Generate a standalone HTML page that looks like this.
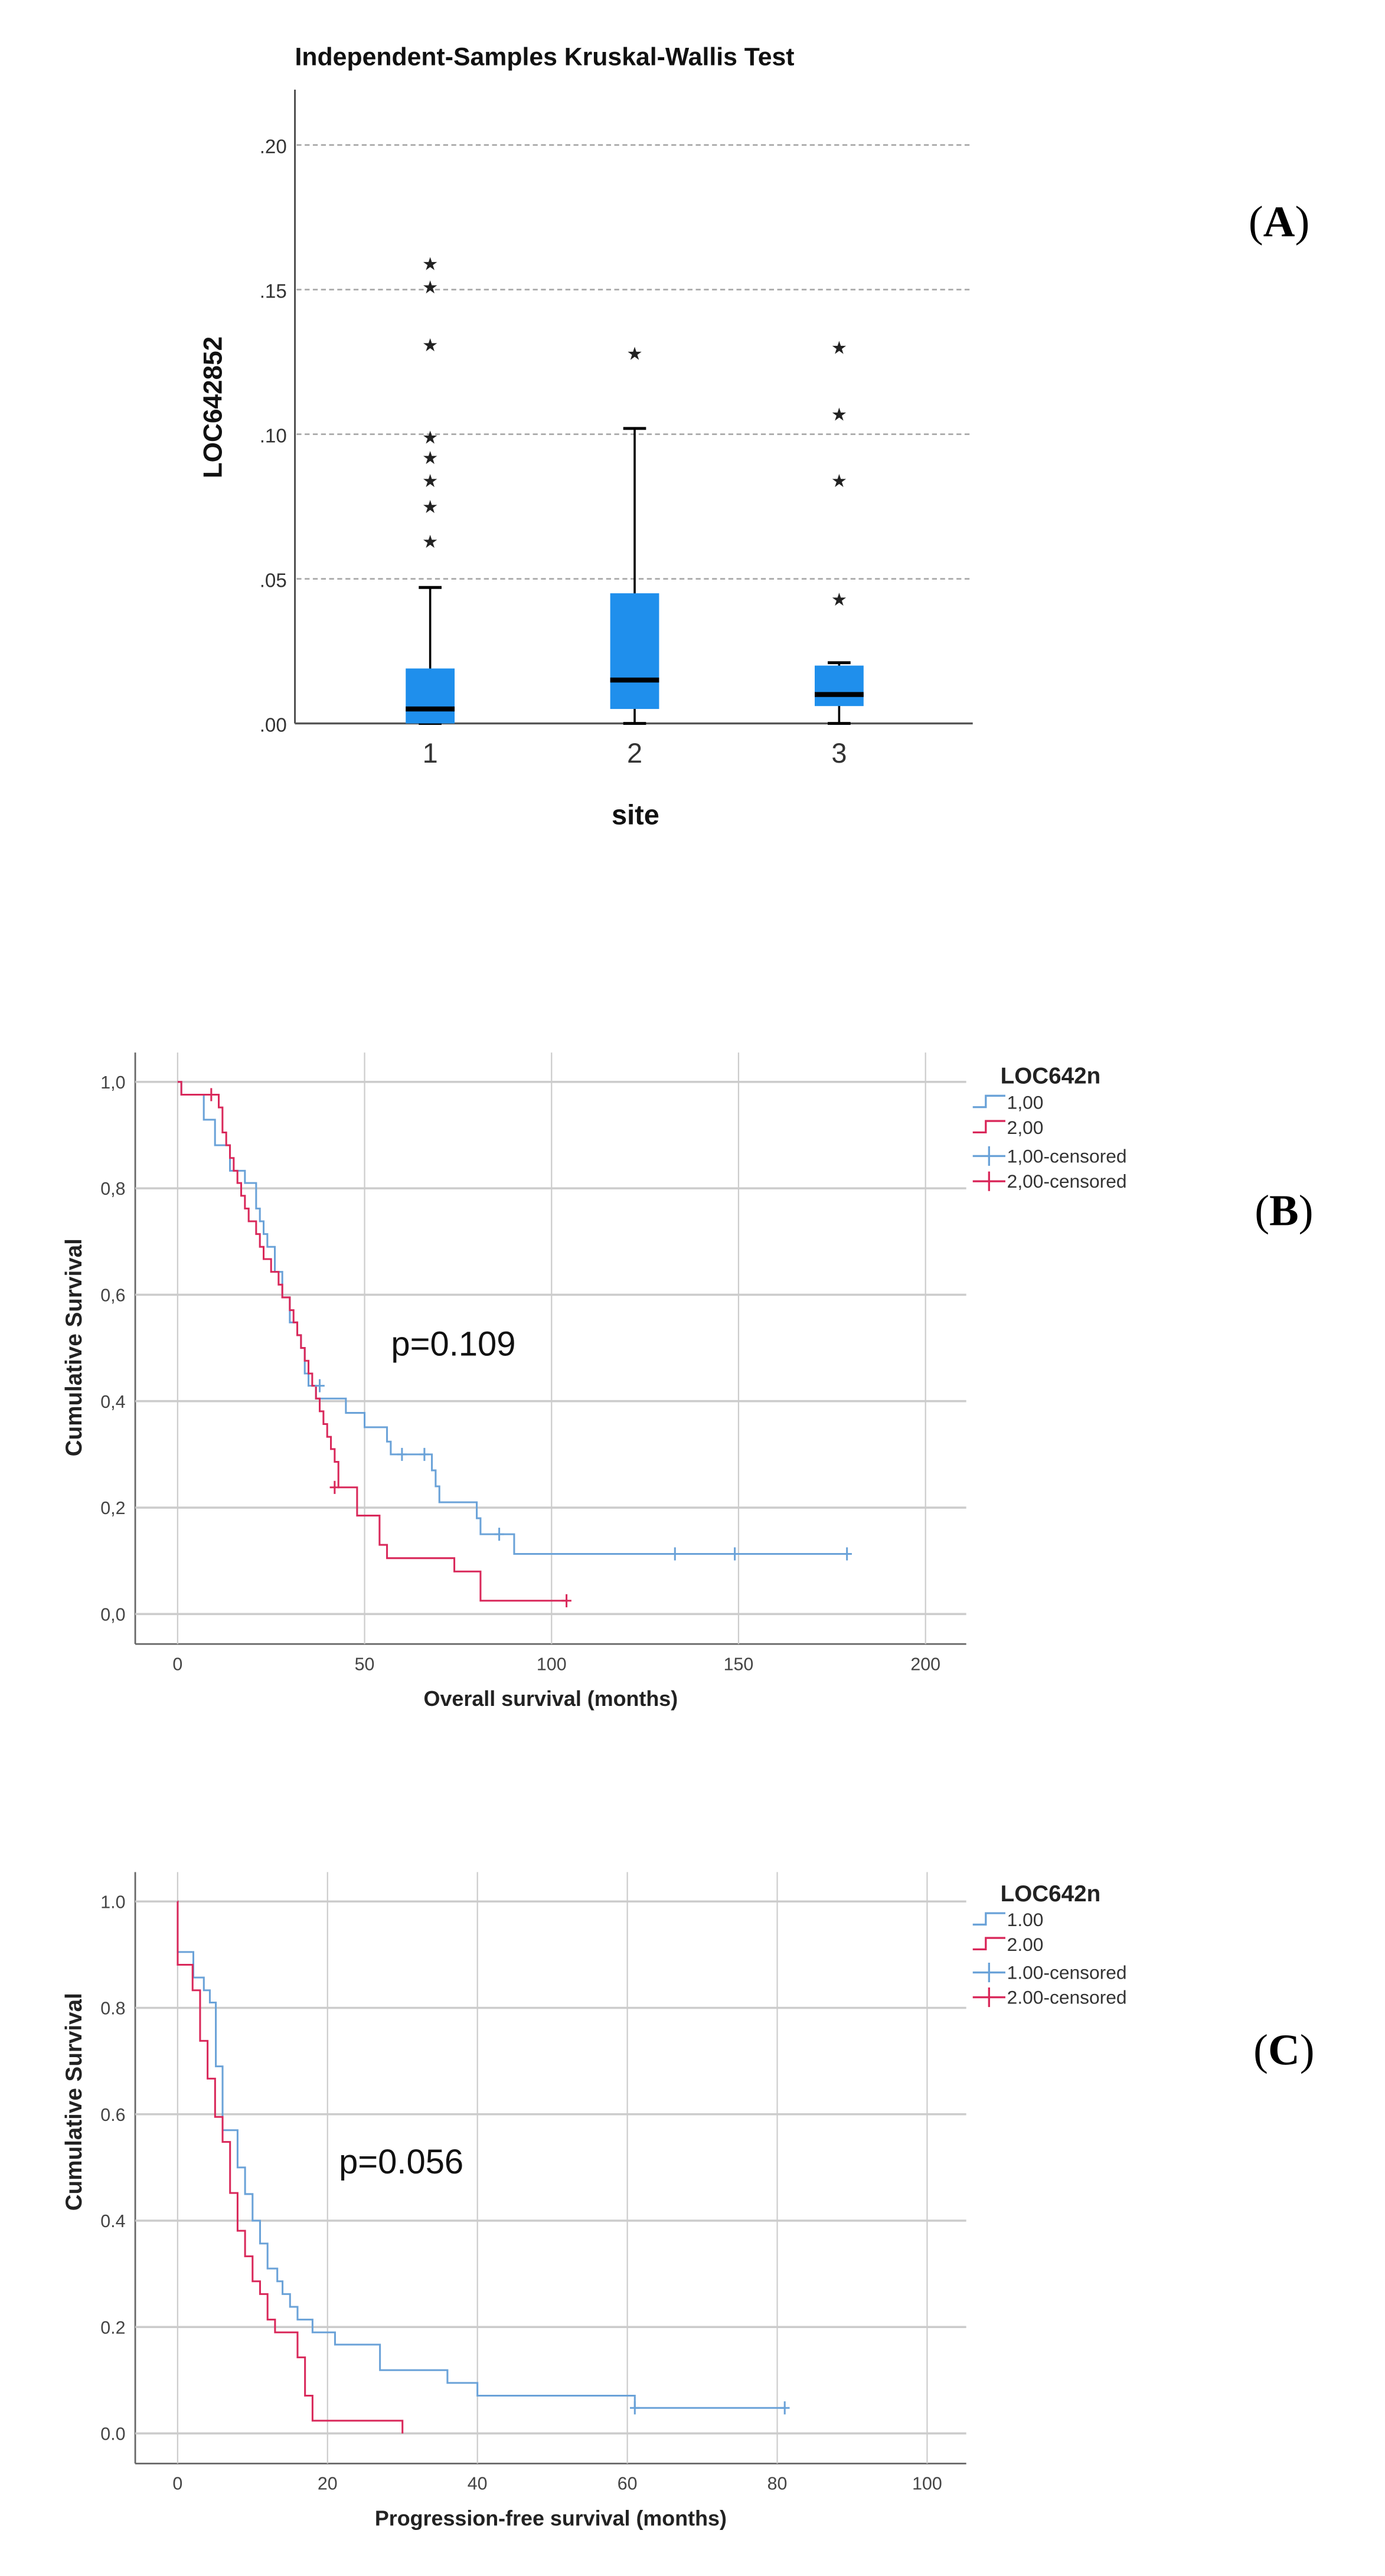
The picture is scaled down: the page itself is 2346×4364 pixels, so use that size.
<!DOCTYPE html>
<html><head><meta charset="utf-8">
<style>
html,body{margin:0;padding:0;background:#fff;}
svg{display:block;}
text{font-family:"Liberation Sans Narrow","Liberation Sans",sans-serif;}
</style></head>
<body>
<svg id="fig" width="2346" height="4364" viewBox="0 0 850 1581" preserveAspectRatio="none" xmlns="http://www.w3.org/2000/svg">
<g id="pa"></g>
<g id="pb"></g>
<g id="pc"></g>
</svg>
<script>
// ---- Panel A data ----
const boxCats = ['1','2','3'];
const boxQ1 = [0.000, 0.005, 0.006];
const boxQ3 = [0.019, 0.045, 0.020];
const boxMed = [0.005, 0.015, 0.010];
const boxWhiskLo = [0.000, 0.000, 0.000];
const boxWhiskHi = [0.047, 0.102, 0.021];
const outliers1 = [0.159, 0.151, 0.131, 0.099, 0.092, 0.084, 0.075, 0.063];
const outliers2 = [0.128];
const outliers3 = [0.130, 0.107, 0.084, 0.043];
const aTicks = [0, 0.05, 0.10, 0.15, 0.20];
const aTickLabels = ['.00', '.05', '.10', '.15', '.20'];

// ---- Panel B data ----
const bBlueT = [0,1,7,10,14,18,21,22,23,24,26,28,30,32,33,34,35,37,45,50,56,57,68,69,70,80,81,90,179];
const bBlueS = [1,0.976,0.929,0.881,0.833,0.81,0.762,0.738,0.714,0.69,0.643,0.595,0.548,0.524,0.5,0.452,0.429,0.405,0.378,0.351,0.324,0.30,0.27,0.24,0.21,0.18,0.15,0.113,0.113];
const bBlueCensT = [38,60,66,86,133,149,179];
const bBlueCensS = [0.429,0.30,0.30,0.15,0.113,0.113,0.113];
const bRedT = [0,1,11,12,13,14,15,16,17,18,19,21,22,23,25,27,28,30,31,32,33,34,35,36,37,38,39,40,41,42,43,48,54,56,74,81,104];
const bRedS = [1,0.976,0.952,0.905,0.881,0.857,0.833,0.81,0.786,0.762,0.738,0.714,0.69,0.667,0.643,0.619,0.595,0.571,0.548,0.524,0.5,0.476,0.452,0.429,0.405,0.381,0.357,0.333,0.31,0.286,0.238,0.185,0.13,0.105,0.08,0.025,0.025];
const bRedCensT = [9,42,104];
const bRedCensS = [0.976,0.238,0.025];
const bXTicks = [0,50,100,150,200];
const bYTicks = [0,0.2,0.4,0.6,0.8,1.0];
const bYLabels = ['0,0','0,2','0,4','0,6','0,8','1,0'];
const bLegend = ['1,00','2,00','1,00-censored','2,00-censored'];

// ---- Panel C data ----
const cBlueT = [0,0.01,2.1,3.5,4.3,5.1,6,8,9,10,11,12,13.3,14,15,16,18,21,27,36,40,61,81];
const cBlueS = [1,0.905,0.857,0.833,0.81,0.69,0.57,0.5,0.45,0.40,0.357,0.31,0.286,0.262,0.238,0.214,0.19,0.167,0.119,0.095,0.071,0.048,0.048];
const cBlueCensT = [61,81];
const cBlueCensS = [0.048,0.048];
const cRedT = [0,0.01,2,3,4,5,6,7,8,9,10,11,12,13,16,17,18,30];
const cRedS = [1,0.881,0.833,0.738,0.667,0.595,0.548,0.452,0.381,0.333,0.286,0.262,0.214,0.19,0.143,0.071,0.024,0];
const cXTicks = [0,20,40,60,80,100];
const cYTicks = [0,0.2,0.4,0.6,0.8,1.0];
const cYLabels = ['0.0','0.2','0.4','0.6','0.8','1.0'];
const cLegend = ['1.00','2.00','1.00-censored','2.00-censored'];

const NS='http://www.w3.org/2000/svg';
function mk(parent,tag,attrs,txt){const e=document.createElementNS(NS,tag);for(const k in attrs)e.setAttribute(k,attrs[k]);if(txt!==undefined)e.textContent=txt;parent.appendChild(e);return e;}

// ===== Panel A =====
(function(){
const g=document.getElementById('pa');
const y=v=>444-v/0.05*88.75;
const x=i=>264+i*125.5;
let t=mk(g,'text',{x:181,y:40,'font-size':15.5,'font-weight':'bold',fill:'#111'},'Independent-Samples Kruskal-Wallis Test');


mk(g,'line',{x1:181,y1:55,x2:181,y2:444,stroke:'#444','stroke-width':1});
aTicks.forEach((v,i)=>{
  if(v>0){const l=mk(g,'line',{x1:182,y1:y(v),x2:597,y2:y(v),stroke:'#aaa','stroke-width':1,'stroke-dasharray':'3,2'});
  
  }
  const tl=mk(g,'text',{x:176,y:y(v)+5,'font-size':12,'text-anchor':'end',fill:'#333'},aTickLabels[i]);
  
  
});
mk(g,'line',{x1:181,y1:444,x2:597,y2:444,stroke:'#555','stroke-width':1.2});
const outs=[outliers1,outliers2,outliers3];
boxCats.forEach((c,i)=>{
  const cx=x(i);
  const wl=mk(g,'line',{x1:cx,y1:y(boxWhiskHi[i]),x2:cx,y2:y(boxWhiskLo[i]),stroke:'#000','stroke-width':1.3});
  
  
  mk(g,'line',{x1:cx-7,y1:y(boxWhiskHi[i]),x2:cx+7,y2:y(boxWhiskHi[i]),stroke:'#000','stroke-width':1.8});
  mk(g,'line',{x1:cx-7,y1:y(boxWhiskLo[i]),x2:cx+7,y2:y(boxWhiskLo[i]),stroke:'#000','stroke-width':1.8});
  const b=mk(g,'rect',{x:cx-15,y:y(boxQ3[i]),width:30,height:y(boxQ1[i])-y(boxQ3[i]),fill:'#1f8fec'});
  
  
  const m=mk(g,'line',{x1:cx-15,y1:y(boxMed[i]),x2:cx+15,y2:y(boxMed[i]),stroke:'#000','stroke-width':3});
  
  
  outs[i].forEach(v=>{
    const s=mk(g,'text',{x:cx,y:y(v)+4,'font-size':11,'text-anchor':'middle',fill:'#222'},'\u2605');
    
    
  });
  const xl=mk(g,'text',{x:cx,y:468,'font-size':17,'text-anchor':'middle',fill:'#333'},c);
  
  
});
t=mk(g,'text',{x:390,y:506,'font-size':17,'font-weight':'bold','text-anchor':'middle',fill:'#111'},'site');


t=mk(g,'text',{x:0,y:0,'font-size':16,'font-weight':'bold','text-anchor':'middle',fill:'#111',transform:'translate(136,250) rotate(-90)',style:'font-family:"Liberation Sans",sans-serif'},'LOC642852');


t=mk(g,'text',{x:785,y:145,'font-size':27,'text-anchor':'middle',fill:'#000',style:'font-family:"Liberation Serif",serif'},'');


t.innerHTML='(<tspan font-weight="bold">A</tspan>)';
})();

// ===== KM panels =====
function km(g,o){
  const x=v=>o.x0+(v-o.xmin)/(o.xmax-o.xmin)*(o.x1-o.x0);
  const y=v=>o.y0-v*(o.y0-o.y1);
  mk(g,'line',{x1:o.ax,y1:o.top,x2:o.ax,y2:o.bot,stroke:'#666','stroke-width':1});
  mk(g,'line',{x1:o.ax,y1:o.bot,x2:o.right,y2:o.bot,stroke:'#666','stroke-width':1});
  o.xt.forEach(v=>{
    const l=mk(g,'line',{x1:x(v),y1:o.top,x2:x(v),y2:o.bot,stroke:'#ccc','stroke-width':0.8});
    
    
    const tl=mk(g,'text',{x:x(v),y:o.bot+16,'font-size':11,'text-anchor':'middle',fill:'#444'},String(v));
    
    
  });
  o.yt.forEach((v,i)=>{
    const l=mk(g,'line',{x1:o.ax,y1:y(v),x2:o.right,y2:y(v),stroke:'#ccc','stroke-width':1.3});
    
    
    const tl=mk(g,'text',{x:o.ax-6,y:y(v)+4,'font-size':11,'text-anchor':'end',fill:'#444'},o.yl[i]);
    
    
  });
  function step(T,S,col,name){
    let d='M'+x(T[0])+','+y(S[0]);
    for(let i=1;i<T.length;i++){d+=' H'+x(T[i])+' V'+y(S[i]);}
    const p=mk(g,'path',{d:d,fill:'none',stroke:col,'stroke-width':1.1});
    
    
  }
  function cens(T,S,col,name){
    T.forEach((t,i)=>{
      const c=mk(g,'path',{d:'M'+x(t)+','+(y(S[i])-4)+' V'+(y(S[i])+4)+' M'+(x(t)-3)+','+y(S[i])+' H'+(x(t)+3),stroke:col,'stroke-width':1.1,fill:'none'});
      
      
    });
  }
  const BLUE='#6aa2d8', RED='#d9285a';
  step(o.bT,o.bS,BLUE,'survival-curve-group-1');
  step(o.rT,o.rS,RED,'survival-curve-group-2');
  cens(o.bcT,o.bcS,BLUE,'censor-mark-group-1');
  if(o.rcT) cens(o.rcT,o.rcS,RED,'censor-mark-group-2');
  let t=mk(g,'text',{x:614,y:o.legY,'font-size':14,'font-weight':'bold',fill:'#222'},'LOC642n');
  
  
  const cols=[BLUE,RED,BLUE,RED];
  o.leg.forEach((lab,i)=>{
    const ly=o.legY+o.legDy*(i+1)+ (i>1?2:0);
    let ic;
    if(i<2) ic=mk(g,'path',{d:'M597,'+(ly-1)+' H605 V'+(ly-8)+' H617',fill:'none',stroke:cols[i],'stroke-width':1.2});
    else ic=mk(g,'path',{d:'M597,'+(ly-4)+' H617 M607,'+(ly-10)+' V'+(ly+2),fill:'none',stroke:cols[i],'stroke-width':1.2});
    
    
    const tx=mk(g,'text',{x:618,y:ly,'font-size':11.5,fill:'#333'},lab);
    
    
  });
  t=mk(g,'text',{x:o.px,y:o.py,'font-size':21,fill:'#111'},o.p);
  
  
  t=mk(g,'text',{x:(o.ax+o.right)/2,y:o.bot+38,'font-size':13,'font-weight':'bold','text-anchor':'middle',fill:'#222'},o.xtitle);
  
  
  t=mk(g,'text',{x:0,y:0,'font-size':14,'font-weight':'bold','text-anchor':'middle',fill:'#222',transform:'translate(50,'+o.ytc+') rotate(-90)',style:'font-family:"Liberation Sans",sans-serif'},'Cumulative Survival');
  
  
  t=mk(g,'text',{x:788,y:o.labY,'font-size':27,'text-anchor':'middle',fill:'#000',style:'font-family:"Liberation Serif",serif'},'');
  
  
  t.innerHTML='(<tspan font-weight="bold">'+o.lab+'</tspan>)';
}

km(document.getElementById('pb'),{
  ax:83,top:646,bot:1009,right:593,x0:109,x1:568,xmin:0,xmax:200,y0:990.6,y1:664,
  xt:bXTicks,yt:bYTicks,yl:bYLabels,bT:bBlueT,bS:bBlueS,rT:bRedT,rS:bRedS,
  bcT:bBlueCensT,bcS:bBlueCensS,rcT:bRedCensT,rcS:bRedCensS,leg:bLegend,legY:665,legDy:15.5,
  p:'p=0.109',px:240,py:832,xtitle:'Overall survival (months)',ytc:827,lab:'B',labY:752
});
km(document.getElementById('pc'),{
  ax:83,top:1149,bot:1512,right:593,x0:109,x1:569,xmin:0,xmax:100,y0:1493.5,y1:1167,
  xt:cXTicks,yt:cYTicks,yl:cYLabels,bT:cBlueT,bS:cBlueS,rT:cRedT,rS:cRedS,
  bcT:cBlueCensT,bcS:cBlueCensS,rcT:null,rcS:null,leg:cLegend,legY:1167,legDy:15.2,
  p:'p=0.056',px:208,py:1334,xtitle:'Progression-free survival (months)',ytc:1290,lab:'C',labY:1267
});
</script>
</body></html>
